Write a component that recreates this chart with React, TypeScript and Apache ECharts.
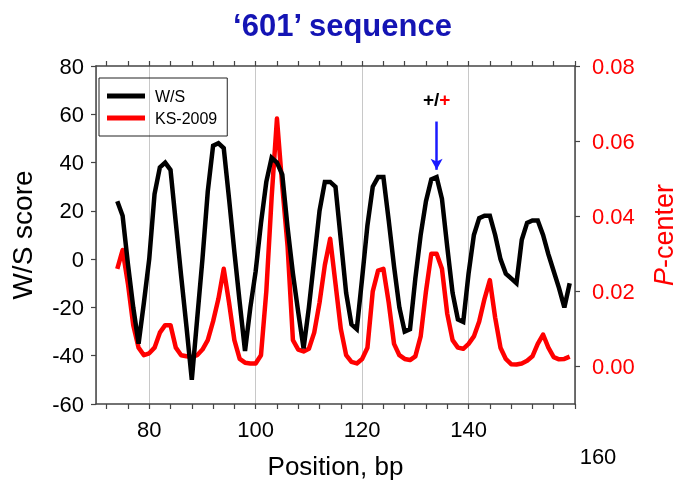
import React, { useEffect, useRef } from "react";
import * as echarts from "echarts";

const positions = [
  74, 75, 76, 77, 78, 79, 80, 81, 82, 83, 84, 85, 86, 87, 88, 89, 90, 91, 92, 93,
  94, 95, 96, 97, 98, 99, 100, 101, 102, 103, 104, 105, 106, 107, 108, 109, 110, 111, 112, 113,
  114, 115, 116, 117, 118, 119, 120, 121, 122, 123, 124, 125, 126, 127, 128, 129, 130, 131, 132, 133,
  134, 135, 136, 137, 138, 139, 140, 141, 142, 143, 144, 145, 146, 147, 148, 149, 150, 151, 152, 153,
  154, 155, 156, 157, 158, 159,
];

const wsScore = [
  24, 18, -2, -20, -35, -18, 0, 27, 38, 40, 37, 15, -7, -28, -50, -25, 0, 28, 47, 48,
  46, 25, 3, -18, -38, -20, -5, 15, 32, 42, 40, 35, 13, -6, -22, -37, -20, 0, 20, 32,
  32, 30, 8, -14, -27, -29, -8, 14, 30, 34, 34, 16, -3, -20, -30, -29, -8, 10, 24, 33,
  34, 25, 5, -14, -25, -26, -6, 10, 17, 18, 18, 10, 0, -6, -8, -10, 8, 15, 16, 16,
  10, 2, -5, -12, -20, -10,
];

const pCenter = [
  0.026, 0.031, 0.022, 0.011, 0.005, 0.003, 0.0035, 0.005, 0.009, 0.011, 0.011, 0.005, 0.003, 0.0027, 0.0025, 0.003, 0.0045, 0.007, 0.012, 0.018,
  0.026, 0.017, 0.007, 0.002, 0.001, 0.0008, 0.0008, 0.003, 0.02, 0.045, 0.066, 0.048, 0.032, 0.007, 0.0045, 0.004, 0.0047, 0.009, 0.017, 0.027,
  0.034, 0.022, 0.01, 0.003, 0.0012, 0.0008, 0.002, 0.005, 0.02, 0.0255, 0.026, 0.017, 0.006, 0.003, 0.002, 0.0017, 0.0027, 0.008, 0.02, 0.03,
  0.03, 0.026, 0.014, 0.007, 0.005, 0.0047, 0.006, 0.008, 0.012, 0.018, 0.023, 0.013, 0.005, 0.002, 0.0006, 0.0005, 0.0008, 0.0015, 0.0027, 0.006,
  0.0085, 0.005, 0.0025, 0.0019, 0.002, 0.0026,
];

const xLabelValues = [80, 100, 120, 140];
const xTickValues = [
  72, 76, 80, 84, 88, 92, 96, 100, 104, 108, 112, 116, 120, 124, 128, 132, 136, 140, 144, 148, 152, 156, 160,
];
const leftTickValues = [-60, -40, -20, 0, 20, 40, 60, 80];
const rightTickValues = [0, 0.02, 0.04, 0.06, 0.08];

const seriesNames = ["W/S", "KS-2009"];
const titleText = "\u2018601\u2019 sequence";
const annotationPos = 134;
const annotationText = { black: "+/", red: "+" };
const strayLabel = "160";

const FONT = "'Liberation Sans', Arial, Helvetica, sans-serif";

export default function App() {
  const ref = useRef<HTMLDivElement>(null);

  useEffect(() => {
    if (!ref.current) return;
    const chart = echarts.init(ref.current, null, { renderer: "svg" });

    const wsData = positions.map((p, i) => [p, wsScore[i]]);
    const pcData = positions.map((p, i) => [p, pCenter[i]]);

    const axisLine = { show: true, onZero: false, lineStyle: { color: "#444", width: 1.5 } };
    const tickStyle = { color: "#444", width: 1.2 };

    chart.setOption({
      animation: false,
      textStyle: { fontFamily: FONT },
      title: {
        text: titleText,
        left: "center",
        top: 5,
        textStyle: { color: "#1414b4", fontSize: 31, fontWeight: "bold", fontFamily: FONT },
      },
      legend: {
        show: true,
        orient: "vertical",
        left: 99,
        top: 78,
        data: seriesNames,
        icon: "rect",
        itemWidth: 38,
        itemHeight: 5,
        itemGap: 6,
        borderColor: "#222",
        borderWidth: 1,
        padding: [10, 10, 10, 8],
        textStyle: { fontSize: 16, color: "#000", fontFamily: FONT, padding: [0, 0, 0, 5] },
      },
      grid: { left: 93, right: 109, top: 66, bottom: 85, containLabel: false },
      xAxis: [
        {
          type: "value",
          min: 70,
          max: 160,
          position: "bottom",
          name: "Position, bp",
          nameLocation: "middle",
          nameGap: 49,
          nameTextStyle: { fontSize: 26, color: "#000", fontFamily: FONT },
          axisLine,
          axisTick: { show: true, inside: false, length: 5, customValues: xTickValues, lineStyle: tickStyle },
          axisLabel: { show: true, customValues: xLabelValues, fontSize: 22, color: "#000", margin: 14, fontFamily: FONT },
          splitLine: { show: false },
        },
        {
          type: "value",
          min: 70,
          max: 160,
          position: "top",
          axisLine,
          axisTick: { show: true, inside: false, length: 5, customValues: xTickValues, lineStyle: tickStyle },
          axisLabel: { show: false },
          splitLine: { show: false },
        },
        {
          type: "value",
          min: 70,
          max: 160,
          splitNumber: 5,
          position: "bottom",
          offset: 0,
          axisLine: { show: false, onZero: false },
          axisTick: { show: false },
          axisLabel: { show: false },
          splitLine: { show: true, lineStyle: { color: "#c8c8c8", width: 1 } },
        },
      ],
      yAxis: [
        {
          type: "value",
          min: -60,
          max: 80,
          interval: 20,
          position: "left",
          name: "W/S score",
          nameLocation: "middle",
          nameRotate: 90,
          nameGap: 60,
          nameTextStyle: { fontSize: 28, color: "#000", fontFamily: FONT },
          axisLine,
          axisTick: { show: true, inside: false, length: 5, customValues: leftTickValues, lineStyle: tickStyle },
          axisLabel: { fontSize: 22, color: "#000", margin: 12, fontFamily: FONT },
          splitLine: { show: false },
        },
        {
          type: "value",
          min: -0.01,
          max: 0.08,
          position: "right",
          name: "{i|P}-center",
          nameLocation: "middle",
          nameRotate: 90,
          nameGap: 75,
          nameTextStyle: {
            fontSize: 27,
            color: "#ff0000",
            fontFamily: FONT,
            rich: { i: { fontStyle: "italic", fontSize: 27, color: "#ff0000", fontFamily: FONT } },
          },
          axisLine,
          axisTick: { show: true, inside: false, length: 5, customValues: rightTickValues, lineStyle: tickStyle },
          axisLabel: {
            customValues: rightTickValues,
            fontSize: 22,
            color: "#ff0000",
            margin: 17,
            fontFamily: FONT,
            formatter: (v: number) => v.toFixed(2),
          },
          splitLine: { show: false },
        },
      ],
      series: [
        {
          name: seriesNames[1],
          type: "line",
          xAxisIndex: 0,
          yAxisIndex: 1,
          data: pcData,
          symbol: "none",
          lineStyle: { color: "#ff0000", width: 4.5, join: "round" },
          itemStyle: { color: "#ff0000" },
          z: 2,
        },
        {
          name: seriesNames[0],
          type: "line",
          xAxisIndex: 0,
          yAxisIndex: 0,
          data: wsData,
          symbol: "none",
          lineStyle: { color: "#000000", width: 4.5, join: "miter", miterLimit: 4 },
          itemStyle: { color: "#000000" },
          z: 3,
          markLine: {
            silent: true,
            symbol: ["none", "arrow"],
            symbolSize: [9, 11],
            lineStyle: { color: "#1a1aff", width: 2.5, type: "solid" },
            label: { show: false },
            data: [[{ coord: [annotationPos, 57] }, { coord: [annotationPos, 37] }]],
          },
          markPoint: {
            silent: true,
            symbol: "rect",
            symbolSize: 1,
            itemStyle: { color: "rgba(0,0,0,0)" },
            label: {
              show: true,
              position: "inside",
              formatter: "{a|" + annotationText.black + "}{b|" + annotationText.red + "}",
              rich: {
                a: { color: "#000", fontSize: 19, fontWeight: "bold", fontFamily: FONT },
                b: { color: "#ff0000", fontSize: 19, fontWeight: "bold", fontFamily: FONT },
              },
            },
            data: [{ coord: [annotationPos, 66] }],
          },
        },
      ],
      graphic: [
        {
          type: "text",
          x: 598,
          y: 456,
          style: {
            text: strayLabel,
            fill: "#000",
            fontSize: 22,
            fontFamily: FONT,
            align: "center",
            verticalAlign: "middle",
          },
        },
      ],
    });

    return () => chart.dispose();
  }, []);

  return (
    <div
      ref={ref}
      style={{ position: "fixed", left: 0, top: 0, width: 685, height: 489 }}
    />
  );
}
